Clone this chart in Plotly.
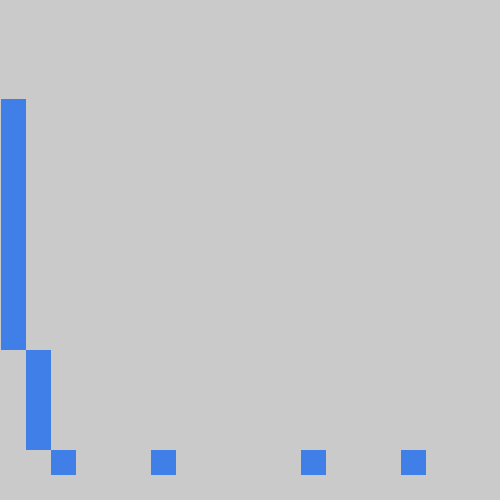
import plotly.graph_objects as go

bins = list(range(20))
bar_bottoms = [5, 1, 0, 0, 0, 0, 0, 0, 0, 0, 0, 0, 0, 0, 0, 0, 0, 0, 0, 0]
bar_tops = [15, 5, 1, 0, 0, 0, 1, 0, 0, 0, 0, 0, 1, 0, 0, 0, 1, 0, 0, 0]
heights = [t - b for t, b in zip(bar_tops, bar_bottoms)]

fig = go.Figure(go.Bar(x=bins, y=heights, base=bar_bottoms,
                       marker=dict(color="#407fe7", line=dict(width=0))))
fig.update_layout(
    width=500, height=500,
    margin=dict(l=0, r=0, t=0, b=0),
    paper_bgcolor="#cacaca", plot_bgcolor="#cacaca",
    bargap=0, showlegend=False,
    xaxis=dict(range=[-0.52, 19.48], visible=False, showgrid=False, zeroline=False),
    yaxis=dict(range=[-1.0, 18.95], visible=False, showgrid=False, zeroline=False),
)
fig.write_html("out.html", config={"displayModeBar": False})
